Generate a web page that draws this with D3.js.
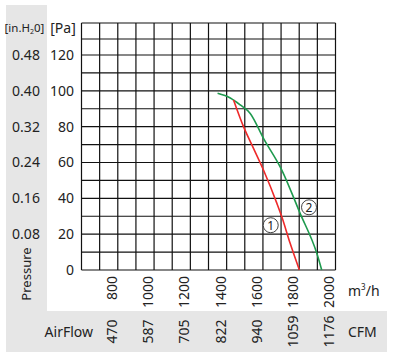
<!DOCTYPE html>
<html><head><meta charset="utf-8">
<script src="https://cdn.jsdelivr.net/npm/d3@7"></script>
<style>
html,body{margin:0;padding:0;background:#fff;}
svg text{font-family:"Noto Sans",sans-serif;fill:#222;}
</style></head>
<body><svg id="c" width="401" height="362"></svg>
<script>
// ---- data ----
const flowTicks = [800, 1000, 1200, 1400, 1600, 1800, 2000];
const cfmLabels = ["470", "587", "705", "822", "940", "1059", "1176"];
const paTicks = [0, 20, 40, 60, 80, 100, 120];
const inH2OLabels = ["", "0.08", "0.16", "0.24", "0.32", "0.40", "0.48"];
const curve1Flow = [1438, 1493, 1550, 1603, 1677, 1704, 1750, 1801];
const curve1Pa   = [94.9, 80, 67.5, 55.8, 37.2, 29.7, 14.9, 0];
const curve2Flow = [1350, 1420, 1475, 1530, 1603, 1704, 1805, 1897, 1924];
const curve2Pa   = [98.6, 96, 92.1, 87.4, 73.5, 55.8, 31.6, 9.3, 0];
const markerNames = ["1", "2"];
const markerFlow = [1643, 1854];
const markerPa = [25, 35];

const svg = d3.select("#c");
const gray = "#e6e6e6";
// background panels
svg.append("rect").attr("x",6).attr("y",5).attr("width",41).attr("height",306).attr("fill",gray);
svg.append("rect").attr("x",6).attr("y",311).attr("width",381).attr("height",41).attr("fill",gray);

const x = d3.scaleLinear().domain([600, 2000]).range([81.5, 335.5]);
const y = d3.scaleLinear().domain([0, 120, 130, 140]).range([270, 55, 39, 23]);

// grid
const g = svg.append("g");
const vx = d3.range(600, 2001, 100);
const hy = d3.range(0, 141, 10);
g.selectAll("line.v").data(vx).join("line")
  .attr("x1",d=>x(d)).attr("x2",d=>x(d)).attr("y1",y(140)).attr("y2",y(0))
  .attr("stroke","#111").attr("stroke-width",1.2);
g.selectAll("line.h").data(hy).join("line")
  .attr("y1",d=>y(d)).attr("y2",d=>y(d)).attr("x1",x(600)).attr("x2",x(2000))
  .attr("stroke","#111").attr("stroke-width",1.2);

// y labels
svg.selectAll("text.pa").data(paTicks).join("text")
  .attr("x",74).attr("y",d=>y(d)).attr("dy","0.35em").attr("text-anchor","end")
  .attr("font-size",14).text(d=>d);
svg.selectAll("text.inh").data(paTicks).join("text")
  .attr("x",26).attr("y",d=>y(d)).attr("dy","0.35em").attr("text-anchor","middle")
  .attr("font-size",14).text((d,i)=>inH2OLabels[i]);

// headers
svg.append("text").attr("x",63).attr("y",33).attr("text-anchor","middle").attr("font-size",14).text("[Pa]");
const h = svg.append("text").attr("x",24.5).attr("y",32).attr("text-anchor","middle").attr("font-size",11.5);
h.append("tspan").text("[in.H");
h.append("tspan").attr("font-size",7).attr("dy",2).text("2");
h.append("tspan").attr("dy",-2).text("0]");

svg.append("text").attr("transform","translate(31,274) rotate(-90)")
  .attr("text-anchor","middle").attr("font-size",13).text("Pressure");

// x labels
svg.selectAll("text.fl").data(flowTicks).join("text")
  .attr("transform",d=>`translate(${x(d)-6},276) rotate(-90)`)
  .attr("text-anchor","end").attr("dy","0.35em").attr("font-size",14).text(d=>d);
svg.selectAll("text.cfm").data(flowTicks).join("text")
  .attr("transform",d=>`translate(${x(d)-6},331.5) rotate(-90)`)
  .attr("text-anchor","middle").attr("dy","0.35em").attr("font-size",14).text((d,i)=>cfmLabels[i]);

const m = svg.append("text").attr("x",348).attr("y",296).attr("font-size",14);
m.append("tspan").text("m");
m.append("tspan").attr("font-size",8).attr("dy",-6).text("3");
m.append("tspan").attr("dy",6).text("/h");
svg.append("text").attr("x",348).attr("y",337).attr("font-size",14).text("CFM");
svg.append("text").attr("x",93).attr("y",337).attr("text-anchor","end").attr("font-size",14).text("AirFlow");

// curves
const line = d3.line().x(d=>x(d[0])).y(d=>y(d[1])).curve(d3.curveMonotoneX);
const c1 = curve1Flow.map((f,i)=>[f,curve1Pa[i]]);
const c2 = curve2Flow.map((f,i)=>[f,curve2Pa[i]]);
svg.append("path").attr("d",line(c2)).attr("fill","none").attr("stroke","#1e9a4e").attr("stroke-width",1.6);
svg.append("path").attr("d",line(c1)).attr("fill","none").attr("stroke","#ee2a2a").attr("stroke-width",1.6);

// markers
const marks = markerNames.map((n,i)=>({n, f:markerFlow[i], p:markerPa[i]}));
const mk = svg.selectAll("g.mk").data(marks).join("g")
  .attr("transform",d=>`translate(${x(d.f)},${y(d.p)})`);
mk.append("circle").attr("r",7.5).attr("fill","#fff").attr("stroke","#444").attr("stroke-width",1);
mk.append("text").attr("text-anchor","middle").attr("dy","0.36em").attr("font-size",12).text(d=>d.n);
</script></body></html>
